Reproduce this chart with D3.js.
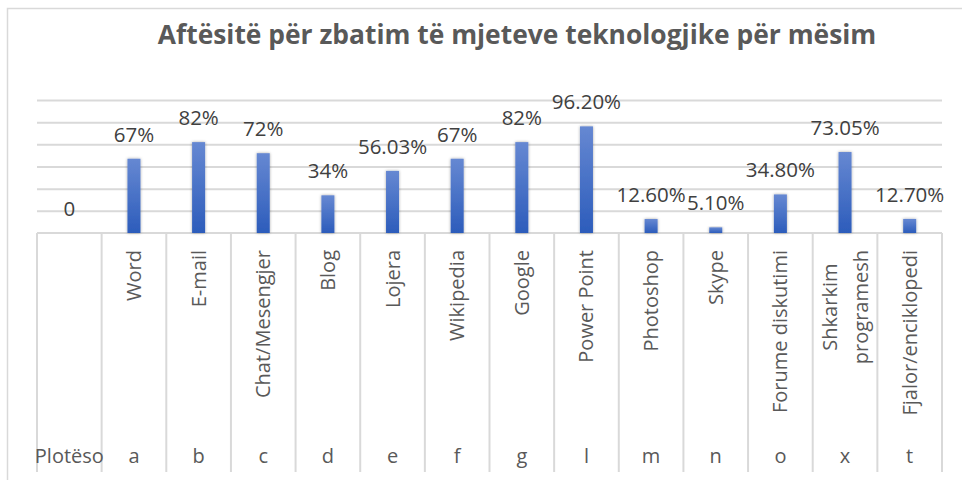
<!DOCTYPE html>
<html>
<head>
<meta charset="utf-8">
<script src="https://cdn.jsdelivr.net/npm/d3@7"></script>
<style>
  body { margin: 0; background: #fff; }
  text { font-family: "Open Sans", sans-serif; }
</style>
</head>
<body>
<div id="chart"></div>
<script>
// data
var tools = ["", "Word", "E-mail", "Chat/Mesengjer", "Blog", "Lojera", "Wikipedia", "Google",
             "Power Point", "Photoshop", "Skype", "Forume diskutimi", "Shkarkim programesh", "Fjalor/enciklopedi"];
var letters = ["Plotëso", "a", "b", "c", "d", "e", "f", "g", "l", "m", "n", "o", "x", "t"];
var values = [0, 67, 82, 72, 34, 56.03, 67, 82, 96.2, 12.6, 5.1, 34.8, 73.05, 12.7];
var valueLabels = ["0", "67%", "82%", "72%", "34%", "56.03%", "67%", "82%", "96.20%",
                   "12.60%", "5.10%", "34.80%", "73.05%", "12.70%"];
var yTicks = [20, 40, 60, 80, 100, 120];
var title = "Aftësitë për zbatim të mjeteve teknologjike për mësim";

var width = 962, height = 480;
var margin = {top: 100, right: 20, bottom: 247, left: 37};

var svg = d3.select("#chart").append("svg")
    .attr("width", width)
    .attr("height", height);

var defs = svg.append("defs");
var grad = defs.append("linearGradient")
    .attr("id", "barGrad")
    .attr("x1", 0).attr("y1", 0).attr("x2", 0).attr("y2", 1);
grad.append("stop").attr("offset", "0%").attr("stop-color", "#6688d2");
grad.append("stop").attr("offset", "100%").attr("stop-color", "#2c5cbb");

var shadow = defs.append("filter").attr("id", "barShadow")
    .attr("x", "-60%").attr("y", "-20%").attr("width", "220%").attr("height", "140%");
shadow.append("feDropShadow")
    .attr("dx", 0).attr("dy", 0).attr("stdDeviation", 1.6)
    .attr("flood-color", "#000").attr("flood-opacity", 0.35);

// chart border (only top + left visible in the crop)
svg.append("path")
    .attr("d", "M7.5,480V8.5H962")
    .attr("fill", "none")
    .attr("stroke", "#d9d9d9")
    .attr("stroke-width", 1.5);

var x = d3.scaleBand()
    .domain(d3.range(tools.length))
    .range([margin.left, width - margin.right])
    .padding(0);

var y = d3.scaleLinear()
    .domain([0, 120])
    .range([height - margin.bottom, margin.top]);

var barW = 13;
var base = y(0);

// gridlines
svg.append("g")
    .attr("transform", `translate(${margin.left},0)`)
    .call(d3.axisLeft(y).tickValues(yTicks).tickSize(-(width - margin.right - margin.left)).tickFormat(""))
    .call(g => g.select(".domain").remove())
    .call(g => g.selectAll("line").attr("stroke", "#d9d9d9").attr("stroke-width", 2));

// category table
var table = svg.append("g").attr("stroke", "#d9d9d9").attr("stroke-width", 2);
table.append("line")
    .attr("x1", margin.left).attr("x2", width - margin.right)
    .attr("y1", base).attr("y2", base);
var bounds = d3.range(tools.length + 1).map(i => i < tools.length ? x(i) : x(i - 1) + x.bandwidth());
table.selectAll("line.v")
    .data(bounds)
    .join("line")
      .attr("class", "v")
      .attr("x1", d => d).attr("x2", d => d)
      .attr("y1", base).attr("y2", 472);

// bars
svg.append("g")
  .selectAll("rect")
  .data(values)
  .join("rect")
    .attr("x", (d, i) => x(i) + x.bandwidth() / 2 - barW / 2)
    .attr("y", d => y(d))
    .attr("width", barW)
    .attr("height", d => base - y(d))
    .attr("fill", "url(#barGrad)")
    .attr("filter", "url(#barShadow)")
    .attr("display", d => d > 0 ? null : "none");

// value labels
svg.append("g")
  .selectAll("text")
  .data(values)
  .join("text")
    .attr("x", (d, i) => x(i) + x.bandwidth() / 2)
    .attr("y", d => y(d) - 17)
    .attr("text-anchor", "middle")
    .attr("font-size", 20.5)
    .attr("fill", "#404040")
    .text((d, i) => valueLabels[i]);

// inner category labels, rotated
var maxLen = 180;
var inner = svg.append("g")
  .selectAll("text")
  .data(tools)
  .join("text")
    .attr("transform", (d, i) => `translate(${x(i) + x.bandwidth() / 2},250) rotate(-90)`)
    .attr("text-anchor", "end")
    .attr("font-size", 20)
    .attr("fill", "#595959");

inner.each(function(d) {
  var t = d3.select(this);
  t.text(d);
  if (this.getComputedTextLength() > maxLen && d.indexOf(" ") > 0) {
    var parts = d.split(" ");
    t.text(null).attr("text-anchor", "middle");
    var lh = 31;
    var spans = parts.map((p, k) => t.append("tspan")
        .attr("y", (k - (parts.length - 1) / 2) * lh + 7)
        .text(p));
    var longest = d3.max(spans, s => s.node().getComputedTextLength());
    spans.forEach(s => s.attr("x", -longest / 2));
  } else {
    t.attr("dy", "0.35em");
  }
});

// outer category labels
svg.append("g")
  .selectAll("text")
  .data(letters)
  .join("text")
    .attr("x", (d, i) => x(i) + x.bandwidth() / 2)
    .attr("y", 463)
    .attr("text-anchor", "middle")
    .attr("font-size", 20)
    .attr("fill", "#595959")
    .text(d => d);

// title, sized to the width it has in the picture
var tt = svg.append("text")
    .attr("x", 517)
    .attr("y", 44)
    .attr("text-anchor", "middle")
    .attr("font-weight", "bold")
    .attr("font-size", 100)
    .attr("fill", "#595959")
    .text(title);
var fs = 100 * 720 / tt.node().getComputedTextLength();
tt.attr("font-size", fs.toFixed(1));
</script>
</body>
</html>
